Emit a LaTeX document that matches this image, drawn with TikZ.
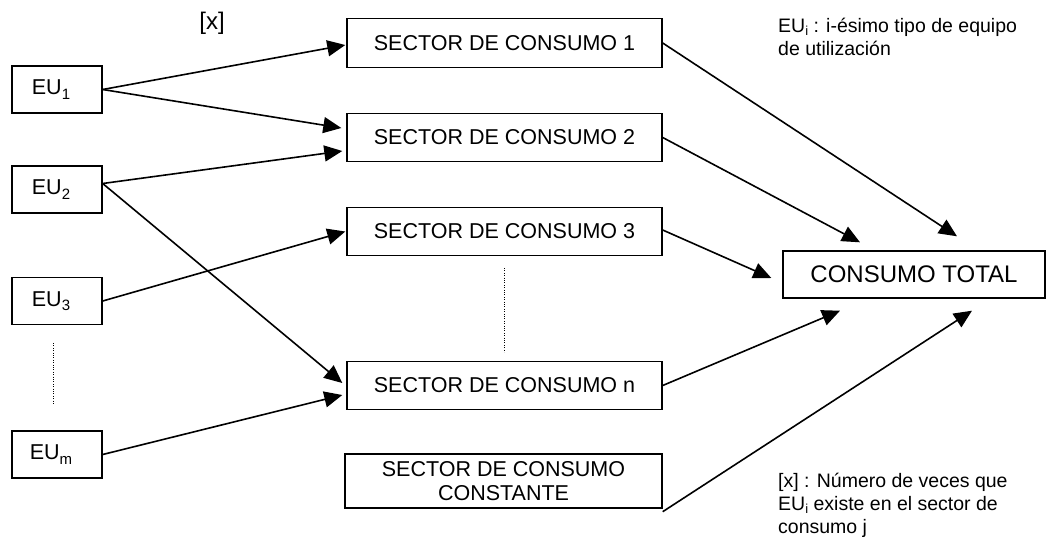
\documentclass[tikz,border=0pt]{standalone}
\usepackage{fontspec}
\setmainfont{Liberation Sans}
\usetikzlibrary{arrows.meta}
\newcommand\boxsub[1]{\raisebox{-4.5pt}{\fontsize{15}{15}\selectfont #1}}
\newcommand\annsub[1]{\raisebox{-3.5pt}{\fontsize{13}{13}\selectfont #1}}
\newcommand\eulabel[1]{EU\boxsub{#1}\hspace*{12pt}}
\begin{document}
\begin{tikzpicture}[x=1pt,y=-1pt,
  box/.style={draw,line width=1.4pt,inner sep=0pt,font=\fontsize{21.5}{24}\selectfont,align=center},
  eubox/.style={box,minimum width=90pt,minimum height=47pt},
  secbox/.style={box,minimum width=315pt,minimum height=48.5pt},
  arr/.style={line width=1.6pt,-{Triangle[length=18pt,width=16pt]}},
  dotline/.style={line width=1pt,dash pattern=on 1pt off 1.4pt},
  ann/.style={inner sep=0pt,anchor=base west,font=\fontsize{19.5}{23}\selectfont}]
\useasboundingbox (0,0) rectangle (1047,539);
% left boxes
\node[eubox] (eu1) at (57,89.5) {\eulabel{1}};
\node[eubox] (eu2) at (57,189.5) {\eulabel{2}};
\node[eubox] (eu3) at (57,301) {\eulabel{3}};
\node[eubox] (eum) at (57,454.5) {\eulabel{m}};
% sector boxes
\node[secbox] (sc1) at (504.5,43) {SECTOR DE CONSUMO 1};
\node[secbox] (sc2) at (504.5,137.5) {SECTOR DE CONSUMO 2};
\node[secbox] (sc3) at (504.5,231.5) {SECTOR DE CONSUMO 3};
\node[secbox] (scn) at (504.5,385.5) {SECTOR DE CONSUMO n};
\node[box,minimum width=317pt,minimum height=54pt] (scc) at (503.5,481) {SECTOR DE CONSUMO\\CONSTANTE};
% total
\node[box,minimum width=262pt,minimum height=47pt,font=\fontsize{24}{27}\selectfont] (ct) at (914,274.5) {CONSUMO TOTAL};
% labels
\node[inner sep=0pt,font=\fontsize{24}{27}\selectfont] (xl) at (212,23) {[x]};
\node[ann] (a1) at (778,32) {EU\annsub{i} : i-ésimo tipo de equipo};
\node[ann] (a2) at (778,55) {de utilización};
\node[ann] (b1) at (778,487) {[x] : Número de veces que};
\node[ann] (b2) at (778,510) {EU\annsub{i} existe en el sector de};
\node[ann] (b3) at (778,533) {consumo j};
% dotted
\draw[dotline] (53,343) -- (53,405);
\draw[dotline] (504,268) -- (504,352);
% left arrows
\draw[arr] (eu1.east) -- ([xshift=-1pt,yshift=-2pt]sc1.west);
\draw[arr] (eu1.east) -- ([xshift=-5pt,yshift=9.5pt]sc2.west);
\draw[arr] ([yshift=6pt]eu2.east) -- ([xshift=-4pt,yshift=-13.5pt]sc2.west);
\draw[arr] ([yshift=6pt]eu2.east) -- ([xshift=-4pt,yshift=2.5pt]scn.west);
\draw[arr] (eu3.east) -- ([xshift=-1pt]sc3.west);
\draw[arr] (eum.east) -- ([xshift=-4pt,yshift=-9.5pt]scn.west);
% right arrows
\draw[arr] (sc1.east) -- ([xshift=43pt,yshift=14pt]ct.north);
\draw[arr] (sc2.east) -- ([xshift=-54pt,yshift=8pt]ct.north);
\draw[arr] ([yshift=1.5pt]sc3.east) -- ([xshift=-11pt,yshift=-3.5pt]ct.west);
\draw[arr] (scn.east) -- ([xshift=-74pt,yshift=-12pt]ct.south);
\draw[arr] ([yshift=-3pt]scc.south east) -- ([xshift=58pt,yshift=-12pt]ct.south);
\end{tikzpicture}
\end{document}
